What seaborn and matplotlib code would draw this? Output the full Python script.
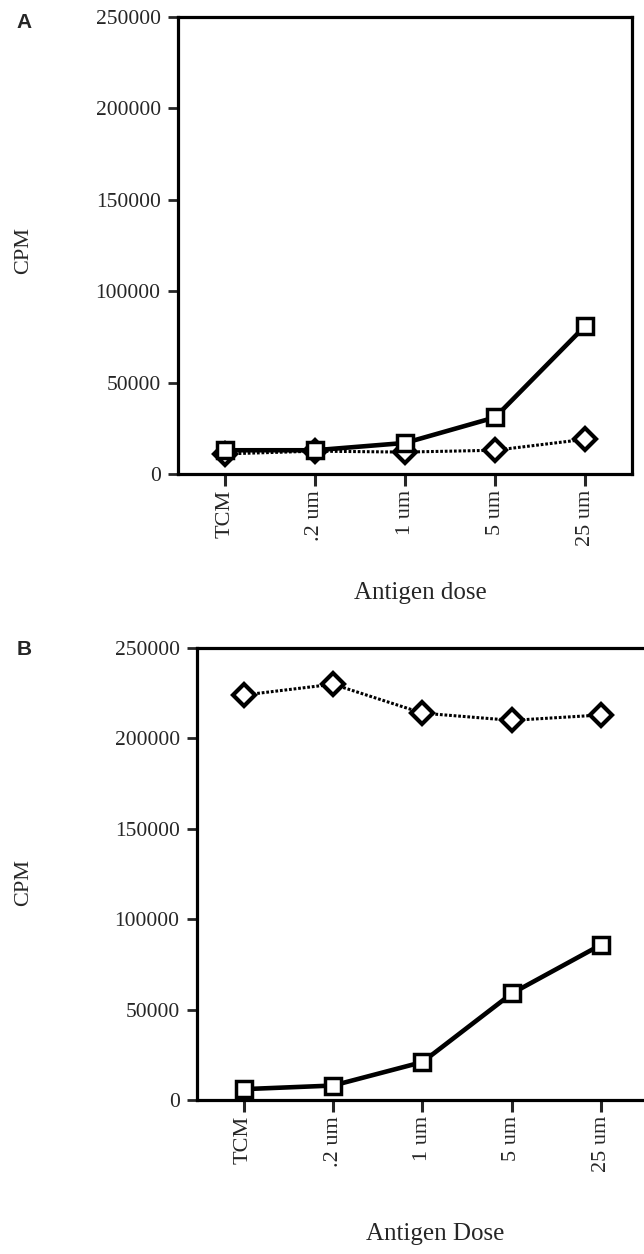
import matplotlib
matplotlib.use("Agg")
import matplotlib.pyplot as plt
import pandas as pd
import seaborn as sns

doses = ['TCM', '.2 um', '1 um', '5 um', '25 um']

# panel A
a_square = [13000, 13000, 17000, 31000, 81000]
a_diamond = [11000, 12500, 12000, 13000, 19000]

# panel B
b_square = [6000, 8000, 21000, 59000, 86000]
b_diamond = [224000, 230000, 214000, 210000, 213000]

yticks = [0, 50000, 100000, 150000, 200000, 250000]

sns.set_style('white')
plt.rcParams['font.family'] = ['Liberation Serif', 'DejaVu Serif']

fig = plt.figure(figsize=(6.44, 12.54), dpi=100)
axA = fig.add_axes([0.2764, 0.622, 0.705, 0.3644])
axB = fig.add_axes([0.3059, 0.1228, 0.7003, 0.3604])


def draw(ax, sq, di, xlabel, lx, ly):
    df = pd.DataFrame({'dose': doses, 'square': sq, 'diamond': di})
    sns.lineplot(data=df, x='dose', y='diamond', ax=ax, color='black',
                 lw=2.2, ls=(0, (0.9, 0.6)), marker='D', markersize=11,
                 markerfacecolor='white', markeredgecolor='black',
                 markeredgewidth=3.0, zorder=2)
    sns.lineplot(data=df, x='dose', y='square', ax=ax, color='black',
                 lw=3.3, marker='s', markersize=11.5,
                 markerfacecolor='white', markeredgecolor='black',
                 markeredgewidth=2.5, zorder=3)
    ax.set_xlim(-0.52, 4.52)
    ax.set_ylim(0, 250000)
    ax.set_yticks(yticks)
    ax.set_yticklabels([str(v) for v in yticks], fontsize=15.5)
    ax.set_xticks(range(len(doses)))
    ax.set_xticklabels(doses, rotation=90, fontsize=16)
    ax.tick_params(axis='y', length=7, width=2, pad=5.5, direction='out', left=True)
    ax.tick_params(axis='x', length=8.5, width=2.2, pad=3, direction='out', bottom=True)
    for s in ax.spines.values():
        s.set_linewidth(2.3)
        s.set_color('black')
    ax.set_xlabel('')
    ax.set_ylabel('')
    fig.text(lx, ly, xlabel, fontsize=18, ha='center', va='center')


draw(axA, a_square, a_diamond, 'Antigen dose', 420 / 644, 1 - 593 / 1254)
draw(axB, b_square, b_diamond, 'Antigen Dose', 435 / 644, 1 - 1234 / 1254)

fig.text(24 / 644, 1 - 251 / 1254, 'CPM', rotation=90, fontsize=16,
         ha='center', va='center')
fig.text(24 / 644, 1 - 882 / 1254, 'CPM', rotation=90, fontsize=16,
         ha='center', va='center')
fig.text(24 / 644, 1 - 22 / 1254, 'A', fontsize=15, fontweight='bold',
         family=['Liberation Sans', 'DejaVu Sans'], ha='center', va='center')
fig.text(24 / 644, 1 - 649 / 1254, 'B', fontsize=15, fontweight='bold',
         family=['Liberation Sans', 'DejaVu Sans'], ha='center', va='center')

fig.savefig('out.png', dpi=100)
